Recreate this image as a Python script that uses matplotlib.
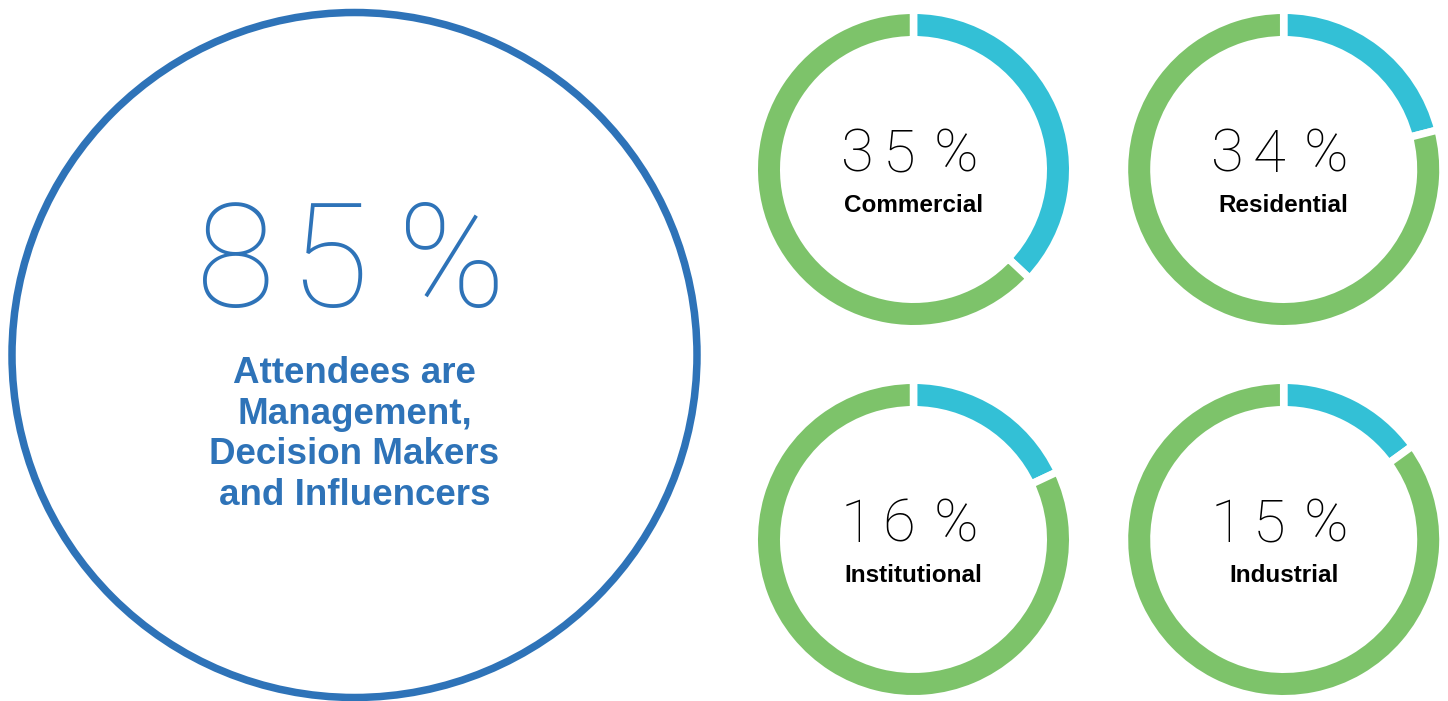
import matplotlib.pyplot as plt
from matplotlib.patches import Circle

# headline figure
main_value = "85%"
main_lines = ["Attendees are", "Management,", "Decision Makers", "and Influencers"]

# market segments (label text and drawn arc share of the cyan part)
segments = ["Commercial", "Residential", "Institutional", "Industrial"]
segment_labels = ["35%", "34%", "16%", "15%"]
arc_shares = [37, 21, 18, 15]

BLUE = "#2e73b8"
CYAN = "#33c0d6"
GREEN = "#7dc36a"

W, H = 1448, 701
fig = plt.figure(figsize=(W / 100, H / 100), dpi=100)

ax = fig.add_axes([0, 0, 1, 1])
ax.set_xlim(0, W)
ax.set_ylim(H, 0)
ax.axis("off")

# big outlined circle
cx, cy, r = 354.5, 355, 342.5
ax.add_patch(Circle((cx, cy), r, fill=False, edgecolor=BLUE, linewidth=5.4))

thin = dict(family=["Roboto", "DejaVu Sans"], fontweight="light")
bold = dict(family=["Liberation Sans", "DejaVu Sans"], fontweight="bold")

for ch, dx in zip(main_value, [-118.5, -25.5, 97]):
    ax.text(cx + dx, cy - 48, ch, ha="center", va="baseline", fontsize=104,
            color=BLUE, **thin)

for i, line in enumerate(main_lines):
    ax.text(cx, 383 + i * 40.7, line, ha="center", va="baseline", fontsize=26.5,
            color=BLUE, **bold)

# four donuts
centers = [(913.5, 169.5), (1283.7, 169.5), (913.5, 539.5), (1283.7, 539.5)]
r_out, ring, gap = 155.5, 22, 7.5
r_pie = r_out + gap / 2

for (dx, dy), name, lab, share in zip(centers, segments, segment_labels, arc_shares):
    dax = fig.add_axes([(dx - r_pie) / W, 1 - (dy + r_pie) / H,
                        2 * r_pie / W, 2 * r_pie / H])
    dax.pie([share, 100 - share], colors=[CYAN, GREEN], startangle=90,
            counterclock=False, radius=1,
            wedgeprops=dict(width=(ring + gap) / r_pie, edgecolor="white",
                            linewidth=gap * 0.72))
    dax.set_xlim(-1, 1)
    dax.set_ylim(-1, 1)
    dax.set_aspect("auto")
    dax.axis("off")

    for ch, ox in zip(lab, [-56.5, -14.5, 42.5]):
        ax.text(dx + ox, dy + 2, ch, ha="center", va="baseline", fontsize=43,
                color="black", **thin)
    ax.text(dx, dy + 42, name, ha="center", va="baseline", fontsize=17.5,
            color="black", **bold)

fig.savefig("out.png", dpi=100)
